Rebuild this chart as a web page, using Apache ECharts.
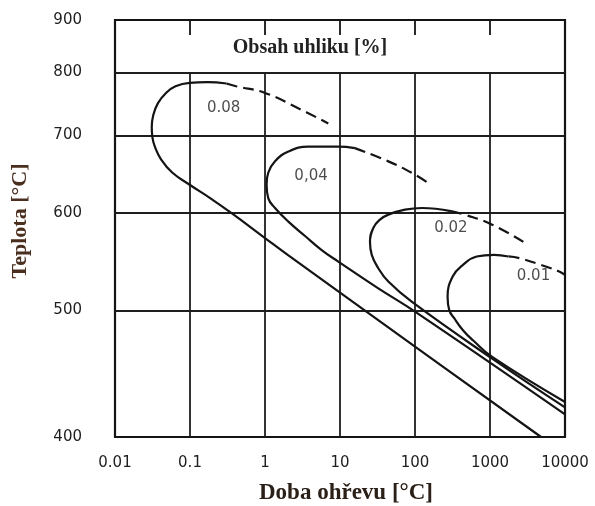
<!DOCTYPE html>
<html><head><meta charset="utf-8">
<script src="https://cdn.jsdelivr.net/npm/echarts@6/dist/echarts.min.js"></script>
<style>html,body{margin:0;padding:0;background:#fff}#c{width:595px;height:506px}</style>
</head><body><div id="c"></div>
<script>
// x: heating time (log scale); y: temperature in °C on a reciprocal absolute-temperature scale
const xTickValues = [0.01, 0.1, 1, 10, 100, 1000, 10000];
const xTickLabels = ['0.01', '0.1', '1', '10', '100', '1000', '10000'];
const yTickValues = [900, 800, 700, 600, 500, 400];
const gridTemps = [800, 700, 600, 500];
const carbonLabels = ['0.08', '0,04', '0.02', '0.01'];
const carbonLabelPos = [[0.281, 741], [4.11, 645], [301, 583], [3802, 532]];

// curves: [time, temperature]
const c008Solid = [[4800,400],[100,468.5],[2.03,553.7],[1,571.8],[0.374,598.5],[0.1875,617.2],[0.099,633.8],[0.0579,649.4],[0.0413,666.4],[0.034,684],[0.0315,697.6],[0.0309,712.3],[0.0324,730.2],[0.0374,748.7],[0.0479,765.1],[0.064,776.2],[0.099,782],[0.17,783],[0.307,780.8]];
const c008Dash = [[0.307,780.8],[0.412,776.2],[1,765.1],[3.08,738],[6.98,717.4]];
const c004Solid = [[10000,416],[100,499],[32.4,520.6],[9.48,547],[5.7,559],[3.42,574],[2.05,590],[1.36,605.7],[1.107,617.2],[1.05,634],[1.107,649.4],[1.36,664.2],[2.05,677.3],[3.78,684],[9.48,684],[15.8,682]];
const c004Dash = [[15.8,682],[44.1,664],[90.3,649],[144.5,637]];
const c002Solid = [[10000,421],[1069,458.6],[90.3,508],[44.1,527.1],[32.4,540.3],[26.5,554],[25.1,568],[27.8,582.9],[34.1,592.3],[44.1,598],[73.6,603.7],[123.5,605.7],[301,602]];
const c002Dash = [[301,602],[455,598],[1069,586.6],[3214,564.6]];
const c001Solid = [[10000,425],[1069,460],[598,473.6],[436,482.5],[335,492.8],[286,500.3],[272,512.7],[318,532],[436,543.7],[664,552.3],[1132,554],[1762,552.3]];
const c001Dash = [[1762,552.3],[2460,550.6],[4797,543.7],[8375,537],[10000,533.6]];

const f = T => 10000 / (T + 273);
const conv = arr => arr.map(p => [p[0], f(p[1])]);

const ink = '#141414';
const tickFont = 'DejaVu Sans';

function curve(data, dashed) {
  return {
    type: 'line', data: conv(data), symbol: 'none', smooth: 0.45, silent: true,
    lineStyle: { color: ink, width: 2.2, type: dashed ? [11, 6] : 'solid' }, z: 5
  };
}

const gridLines = [];
gridTemps.forEach(T => gridLines.push({ yAxis: f(T) }));
xTickValues.slice(1, -1).forEach(t => gridLines.push([{ coord: [t, f(800)] }, { coord: [t, f(400)] }]));

const series = [
  Object.assign(curve(c008Solid, false), {
    markLine: { silent: true, symbol: 'none', label: { show: false }, animation: false,
      lineStyle: { color: '#1e1e1e', width: 1.8, type: 'solid' }, data: gridLines }
  }),
  curve(c008Dash, true), curve(c004Solid, false), curve(c004Dash, true),
  curve(c002Solid, false), curve(c002Dash, true), curve(c001Solid, false), curve(c001Dash, true),
  {
    type: 'scatter', symbolSize: 0, silent: true, z: 6,
    data: conv(carbonLabelPos),
    label: { show: true, position: 'inside', formatter: p => carbonLabels[p.dataIndex],
      fontFamily: tickFont, fontSize: 15, color: '#1e1e1e' }
  }
];

const chart = echarts.init(document.getElementById('c'), null, { renderer: 'canvas' });
chart.setOption({
  animation: false,
  backgroundColor: '#fff',
  grid: { left: 115, right: 30, top: 20, bottom: 69, show: true, borderColor: ink, borderWidth: 2.2, backgroundColor: 'transparent' },
  xAxis: [
    { type: 'log', logBase: 10, min: 0.01, max: 10000, splitNumber: 6, position: 'bottom',
      axisLine: { show: false }, axisTick: { show: false }, splitLine: { show: false },
      axisLabel: { margin: 19, fontFamily: tickFont, fontSize: 15, color: '#1e1e1e',
        formatter: v => xTickLabels[Math.round(Math.log10(v)) + 2] } },
    { type: 'log', logBase: 10, min: 0.01, max: 10000, splitNumber: 6, position: 'top',
      axisLine: { show: false }, splitLine: { show: false }, axisLabel: { show: false },
      axisTick: { show: true, inside: true, length: 15, lineStyle: { color: ink, width: 1.8 } } }
  ],
  yAxis: {
    type: 'value', inverse: true, min: f(900), max: f(400),
    axisLine: { show: false }, axisTick: { show: false }, splitLine: { show: false },
    axisLabel: { margin: 33, fontFamily: tickFont, fontSize: 15, color: '#1e1e1e',
      customValues: yTickValues.map(f),
      formatter: v => String(Math.round(10000 / v - 273)) }
  },
  graphic: [
    { type: 'text', x: 310, y: 48, silent: true,
      style: { text: 'Obsah uhliku [%]', font: 'bold 20px "Liberation Serif"', fill: '#222', align: 'center', verticalAlign: 'middle', textAlign: 'center', textVerticalAlign: 'middle' } },
    { type: 'text', x: 346, y: 493, silent: true,
      style: { text: 'Doba ohřevu [°C]', font: 'bold 23px "Liberation Serif"', fill: '#2b2018', align: 'center', verticalAlign: 'middle', textAlign: 'center', textVerticalAlign: 'middle' } },
    { type: 'text', x: 20, y: 221, rotation: Math.PI / 2, silent: true,
      style: { text: 'Teplota [°C]', font: 'bold 22px "Liberation Serif"', fill: '#4a2e1e', align: 'center', verticalAlign: 'middle', textAlign: 'center', textVerticalAlign: 'middle' } }
  ],
  series: series
});
</script></body></html>
